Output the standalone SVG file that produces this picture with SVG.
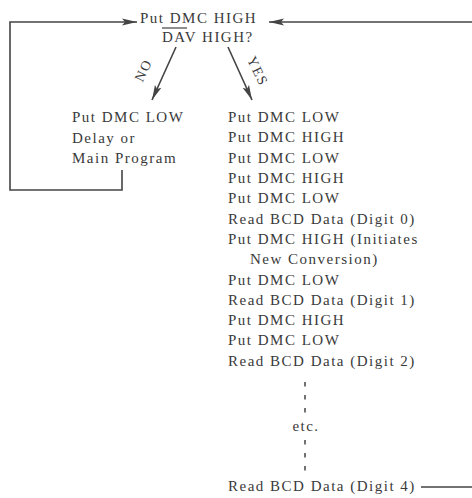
<svg xmlns="http://www.w3.org/2000/svg" width="472" height="498" viewBox="0 0 472 498">
<style>
  text { font-family: "Liberation Serif", "Times New Roman", serif; font-size: 15px; letter-spacing: 1.5px; fill: #3a3a3a; }
  .ln { stroke: #444; stroke-width: 1.6; fill: none; }
  .dash { stroke: #444; stroke-width: 1.5; stroke-dasharray: 4.5 8.5; fill: none; }
  .lbl { font-size: 14px; }
</style>
<defs>
  <marker id="ah" markerUnits="userSpaceOnUse" markerWidth="16" markerHeight="8" refX="15" refY="4" orient="auto">
    <path d="M0,0.5 L15,4 L0,7.5 L3,4 z" fill="#444"/>
  </marker>
</defs>
<rect width="472" height="498" fill="#ffffff"/>
<g id="connectors">
  <polyline class="ln" points="122,170 122,190 10,190 10,22 137,22" marker-end="url(#ah)"/>
  <line class="ln" x1="472" y1="22" x2="269" y2="22" marker-end="url(#ah)"/>
  <line class="ln" x1="176" y1="47" x2="152" y2="100" marker-end="url(#ah)"/>
  <line class="ln" x1="228" y1="47" x2="252" y2="100" marker-end="url(#ah)"/>
  <line class="dash" x1="305" y1="382" x2="305" y2="418"/>
  <line class="dash" x1="305" y1="440" x2="305" y2="476"/>
  <line class="ln" x1="421" y1="487" x2="472" y2="487"/>
  <text class="lbl" x="143" y="75" text-anchor="middle" transform="rotate(-64 143 70)">NO</text>
  <text class="lbl" x="258" y="76" text-anchor="middle" transform="rotate(64 258 71)">YES</text>
</g>
<g id="decision">
  <text x="140" y="23">Put DMC HIGH</text>
  <text x="162" y="42">DAV HIGH?</text>
  <line x1="162" y1="28" x2="187" y2="28" stroke="#444" stroke-width="1.2"/>
</g>
<g id="no-branch">
  <text x="72" y="122">Put DMC LOW</text>
  <text x="72" y="143">Delay or</text>
  <text x="72" y="163">Main Program</text>
</g>
<g id="yes-branch">
  <text x="228" y="122">Put DMC LOW</text>
  <text x="228" y="142">Put DMC HIGH</text>
  <text x="228" y="163">Put DMC LOW</text>
  <text x="228" y="183">Put DMC HIGH</text>
  <text x="228" y="203">Put DMC LOW</text>
  <text x="228" y="224">Read BCD Data (Digit 0)</text>
  <text x="228" y="244">Put DMC HIGH (Initiates</text>
  <text x="250" y="264">New Conversion)</text>
  <text x="228" y="285">Put DMC LOW</text>
  <text x="228" y="305">Read BCD Data (Digit 1)</text>
  <text x="228" y="325">Put DMC HIGH</text>
  <text x="228" y="345">Put DMC LOW</text>
  <text x="228" y="366">Read BCD Data (Digit 2)</text>
  <text x="306" y="431" text-anchor="middle" font-size="13">etc.</text>
  <text x="228" y="491">Read BCD Data (Digit 4)</text>
</g>
</svg>
